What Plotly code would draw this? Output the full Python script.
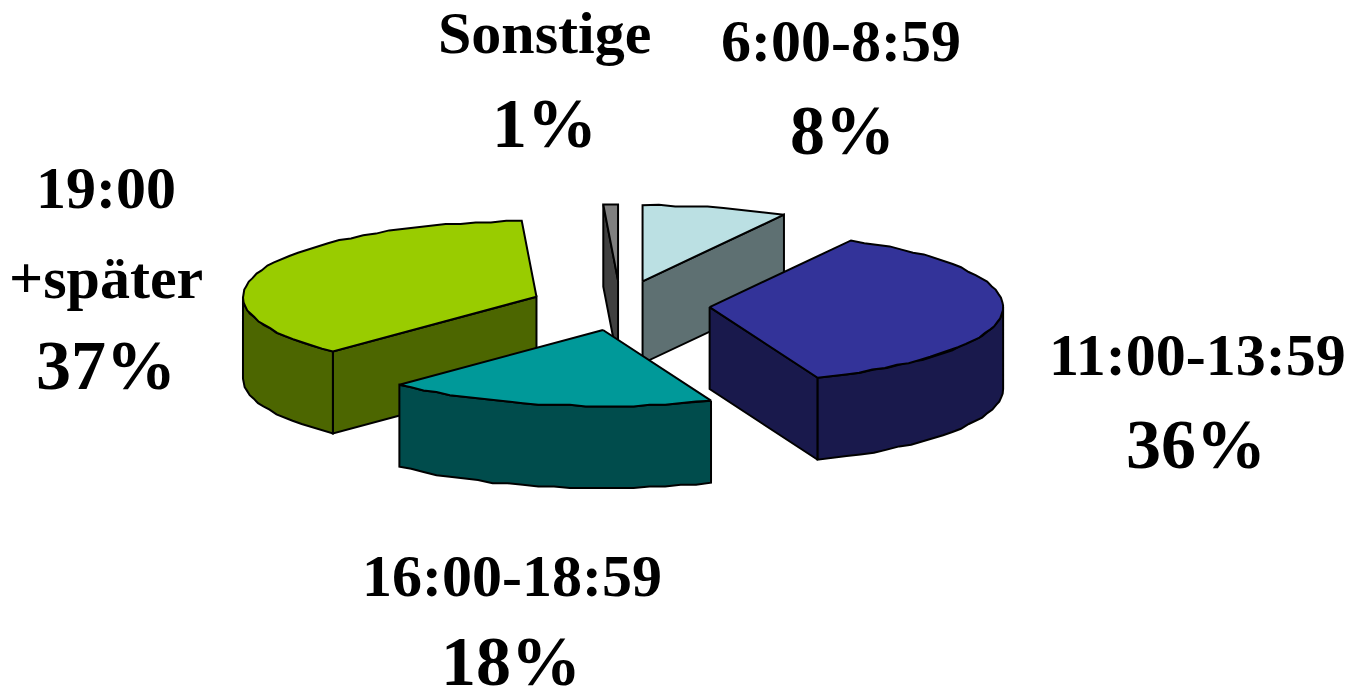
import math
import plotly.graph_objects as go

categories = ["6:00-8:59", "11:00-13:59", "16:00-18:59", "19:00 +später", "Sonstige"]
values = [8, 36, 18.2, 37, 0.8]
top_colors = ["#BBE0E3", "#333399", "#009999", "#99CC00", "#808080"]
side_colors = ["#5E7072", "#19194C", "#004C4C", "#4C6600", "#404040"]

W, H = 1356, 693
CX, CY = 620.3, 305.5
RX, RY = 293.5, 76
EX, EY = 89.5, 25
DEPTH = 82
GRID = 1.6

fig = go.Figure()


def poly(pts, color):
    xs = [p[0] for p in pts] + [pts[0][0]]
    ys = [p[1] for p in pts] + [pts[0][1]]
    fig.add_trace(go.Scatter(x=xs, y=ys, mode="lines", fill="toself", fillcolor=color,
                             line=dict(color="black", width=2), hoverinfo="skip",
                             showlegend=False))


total = sum(values)
wedges = []
cum = 0.0
for i, v in enumerate(values):
    a0 = cum / total * 2 * math.pi
    cum += v
    a1 = cum / total * 2 * math.pi
    mid = (a0 + a1) / 2
    wedges.append((i, a0, a1, CX + EX * math.sin(mid), CY - EY * math.cos(mid)))


def rim(cx, cy, a, dy=0):
    return (cx + RX * math.sin(a), cy - RY * math.cos(a) + dy)


def rim_path(cx, cy, a0, a1, dy=0, step=math.radians(3)):
    """Rim between two angles; inner points snap to a fine grid like the low-res original."""
    n = max(1, int(abs(a1 - a0) / step))
    pts = []
    for k in range(n + 1):
        x, y = rim(cx, cy, a0 + (a1 - a0) * k / n, dy)
        if 0 < k < n:
            y = round(y / GRID) * GRID
        pts.append((x, y))
    return pts


# painter's order: wedges further back first
for i, a0, a1, cx, cy in sorted(wedges, key=lambda w: w[4]):
    side, top = side_colors[i], top_colors[i]
    if math.sin(a0) < -1e-6:
        poly([rim(cx, cy, a0), (cx, cy), (cx, cy + DEPTH), rim(cx, cy, a0, DEPTH)], side)
    if math.sin(a1) > 1e-6:
        poly([(cx, cy), rim(cx, cy, a1), rim(cx, cy, a1, DEPTH), (cx, cy + DEPTH)], side)
    lo, hi = max(a0, math.pi / 2), min(a1, 3 * math.pi / 2)
    if lo < hi:
        poly(rim_path(cx, cy, lo, hi) + rim_path(cx, cy, hi, lo, DEPTH), side)
    poly([(cx, cy)] + rim_path(cx, cy, a0, a1), top)

# labels
name_lines = [["6:00-8:59"], ["11:00-13:59"], ["16:00-18:59"], ["19:00", "+später"], ["Sonstige"]]
name_pos = [[(841, 41)], [(1197, 355)], [(512, 576)], [(106, 188), (106, 278)], [(544, 33)]]
pct_pos = [(842, 130), (1196, 444), (511, 661), (106, 365), (544, 123)]

annotations = []
for lines, poss, v, pp in zip(name_lines, name_pos, values, pct_pos):
    for t, (x, y) in zip(lines, poss):
        annotations.append(dict(x=x, y=y, text=f"<b>{t}</b>", showarrow=False, xanchor="center",
                                yanchor="middle", font=dict(size=60, family="Liberation Serif", color="black")))
    annotations.append(dict(x=pp[0], y=pp[1], text=f"<b>{round(v)}%</b>", showarrow=False, xanchor="center",
                            yanchor="middle", font=dict(size=70, family="Liberation Serif", color="black")))

fig.update_layout(
    width=W, height=H, margin=dict(l=0, r=0, t=0, b=0),
    paper_bgcolor="white", plot_bgcolor="white", showlegend=False,
    xaxis=dict(range=[0, W], visible=False, fixedrange=True),
    yaxis=dict(range=[H, 0], visible=False, fixedrange=True),
    annotations=annotations,
)
fig.write_html("out.html", config={"displayModeBar": False},
               post_script="document.body.style.margin='0';document.body.style.overflow='hidden';")
